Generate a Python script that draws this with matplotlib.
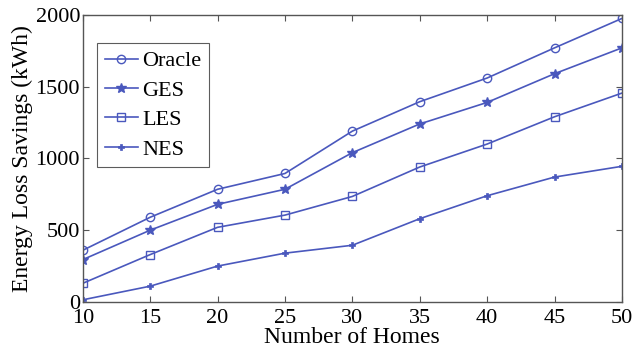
import numpy as np
import matplotlib
matplotlib.use('Agg')
import matplotlib.pyplot as plt

plt.rcParams['font.family'] = ['Liberation Serif', 'DejaVu Serif']
plt.rcParams['mathtext.fontset'] = 'stix'

# --- data ---
homes = [10, 15, 20, 25, 30, 35, 40, 45, 50]
oracle = [360, 590, 785, 895, 1190, 1395, 1560, 1770, 1975]
ges = [295, 500, 680, 785, 1040, 1240, 1390, 1590, 1770]
les = [130, 330, 520, 605, 735, 940, 1100, 1290, 1455]
nes = [15, 110, 250, 340, 395, 580, 740, 870, 945]

color = '#4a58bd'

fig = plt.figure(figsize=(6.32, 3.54), dpi=100)
ax = fig.add_axes([0.131, 0.147, 0.853, 0.811])

ax.plot(homes, oracle, '-o', color=color, lw=1.2, ms=6, mfc='none', mew=1.0, label='Oracle')
ax.plot(homes, ges, '-*', color=color, lw=1.2, ms=7, mew=1.0, label='GES')
ax.plot(homes, les, '-s', color=color, lw=1.2, ms=6, mfc='none', mew=1.0, label='LES')
ax.plot(homes, nes, '-P', color=color, lw=1.2, ms=5, mew=0.5, label='NES')

ax.set_xlim(10, 50)
ax.set_ylim(0, 2000)
ax.set_xticks(np.arange(10, 51, 5))
ax.set_yticks(np.arange(0, 2001, 500))
ax.tick_params(direction='in', top=True, right=True, labelsize=16, length=4, color='#555555')
ax.tick_params(axis='x', pad=5)
ax.tick_params(axis='y', pad=2)
for s in ax.spines.values():
    s.set_color('#555555')
    s.set_linewidth(1.0)

ax.set_xlabel('Number of Homes', fontsize=17, labelpad=-1)
ax.set_ylabel('Energy Loss Savings (kWh)', fontsize=17, labelpad=2)

leg = ax.legend(loc='upper left', bbox_to_anchor=(0.026, 0.902), fontsize=16,
                frameon=True, fancybox=False, edgecolor='#333333',
                handlelength=1.5, borderpad=0.35, labelspacing=0.4, handletextpad=0.2,
                borderaxespad=0)
leg.get_frame().set_linewidth(0.8)

fig.savefig('out.png', dpi=100)
